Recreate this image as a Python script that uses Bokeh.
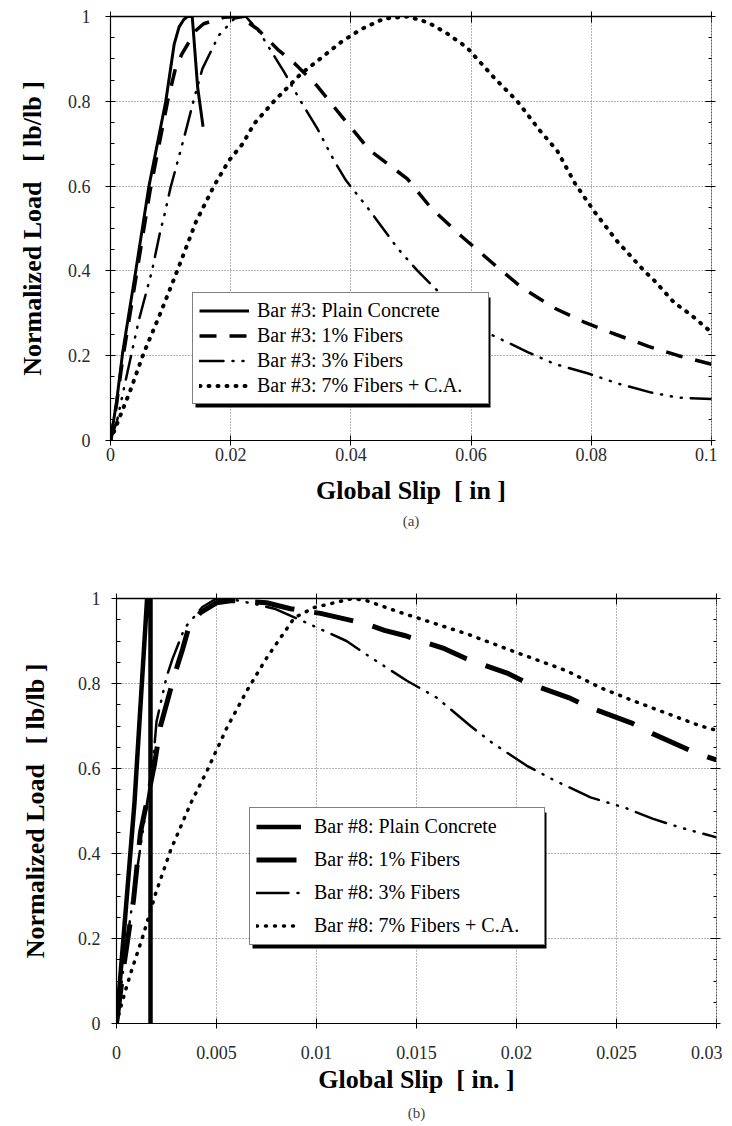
from bokeh.plotting import figure
from bokeh.layouts import column, row
from bokeh.models import (FixedTicker, LinearAxis, Legend, LegendItem, Title,
                          CustomJSTickFormatter, BoxAnnotation, Spacer)
from bokeh.embed import file_html
from bokeh.resources import INLINE

# ---------------- data: panel (a), bar #3 ----------------
a_x_ticks = [0, 0.02, 0.04, 0.06, 0.08, 0.1]
y_ticks = [0, 0.2, 0.4, 0.6, 0.8, 1]
y_minor = [0.05, 0.1, 0.15, 0.25, 0.3, 0.35, 0.45, 0.5, 0.55, 0.65, 0.7, 0.75, 0.85, 0.9, 0.95]

a_plain_x = [0, 0.001, 0.002, 0.0042, 0.0064, 0.0092, 0.0106, 0.0114, 0.0122, 0.0128, 0.0136, 0.0145, 0.0154]
a_plain_y = [0, 0.09, 0.205, 0.40, 0.60, 0.80, 0.935, 0.975, 0.993, 1.0, 1.0, 0.833, 0.74]

a_f1_x = [0, 0.001, 0.002, 0.0043, 0.0066, 0.0095, 0.0108, 0.0119, 0.0142, 0.0155, 0.0189, 0.0215, 0.0245,
          0.0280, 0.0306, 0.0344, 0.0385, 0.0431, 0.0494, 0.0533, 0.0583, 0.0636, 0.0685, 0.0739, 0.0787,
          0.0841, 0.0895, 0.0945, 0.1]
a_f1_y = [0, 0.085, 0.19, 0.39, 0.59, 0.80, 0.877, 0.912, 0.967, 0.983, 0.998, 1.0, 0.97,
          0.92, 0.89, 0.836, 0.764, 0.685, 0.617, 0.549, 0.483, 0.418, 0.36, 0.312, 0.28,
          0.25, 0.222, 0.20, 0.18]

a_f3_x = [0, 0.0011, 0.0025, 0.0047, 0.0069, 0.0083, 0.0089, 0.0100, 0.0122, 0.0139, 0.0153, 0.0180,
          0.0206, 0.0225, 0.0247, 0.0289, 0.0314, 0.0344, 0.0372, 0.0392, 0.0430, 0.0478, 0.0511,
          0.0547, 0.0630, 0.0695, 0.0738, 0.0795, 0.0845, 0.0900, 0.0945, 0.1]
a_f3_y = [0, 0.047, 0.14, 0.283, 0.40, 0.495, 0.527, 0.597, 0.712, 0.806, 0.877, 0.955,
          0.995, 1.0, 0.965, 0.869, 0.806, 0.736, 0.66, 0.613, 0.545, 0.453, 0.40,
          0.349, 0.252, 0.208, 0.181, 0.158, 0.134, 0.113, 0.101, 0.098]

a_f7_x = [0, 0.0013, 0.0033, 0.0055, 0.0083, 0.0111, 0.0142, 0.0172, 0.0197, 0.022, 0.0239, 0.0272,
          0.0317, 0.0345, 0.0383, 0.0417, 0.0455, 0.0495, 0.0528, 0.056, 0.0593, 0.0638, 0.0677,
          0.0715, 0.0743, 0.0773, 0.0805, 0.0843, 0.0888, 0.0905, 0.0938, 0.0967, 0.1]
a_f7_y = [0, 0.047, 0.118, 0.205, 0.30, 0.40, 0.515, 0.60, 0.66, 0.70, 0.747, 0.80,
          0.865, 0.896, 0.939, 0.97, 0.995, 1.0, 0.986, 0.96, 0.927, 0.856, 0.80,
          0.73, 0.684, 0.606, 0.54, 0.47, 0.40, 0.377, 0.325, 0.295, 0.255]

a_labels = ["Bar #3: Plain Concrete", "Bar #3: 1% Fibers", "Bar #3: 3% Fibers", "Bar #3: 7% Fibers + C.A."]

# ---------------- data: panel (b), bar #8 ----------------
b_x_ticks = [0, 0.005, 0.01, 0.015, 0.02, 0.025, 0.03]

b_plain_x = [0, 0.0009, 0.00153, 0.0017, 0.0017]
b_plain_y = [0, 0.52, 1.0, 1.0, 0]

b_f1_x = [0, 0.00035, 0.0006, 0.00085, 0.0012, 0.0016, 0.0019, 0.0022, 0.0029, 0.0033, 0.0036, 0.0042,
          0.0050, 0.0058, 0.0075, 0.0087, 0.0102, 0.0125, 0.0134, 0.0144, 0.0164, 0.0175, 0.0196,
          0.0205, 0.0226, 0.0237, 0.0258, 0.0268, 0.0289, 0.03]
b_f1_y = [0, 0.13, 0.21, 0.29, 0.45, 0.54, 0.61, 0.70, 0.82, 0.88, 0.93, 0.967,
          0.99, 0.995, 0.99, 0.976, 0.965, 0.94, 0.925, 0.913, 0.882, 0.858, 0.823,
          0.802, 0.767, 0.743, 0.706, 0.682, 0.638, 0.62]

b_f3_x = [0, 0.0004, 0.0009, 0.0014, 0.0018, 0.0020, 0.0025, 0.0028, 0.0034, 0.0043, 0.0050, 0.0058,
          0.0072, 0.0079, 0.0094, 0.0115, 0.0125, 0.0145, 0.0160, 0.0177, 0.0188, 0.0205, 0.0219,
          0.0237, 0.0254, 0.0268, 0.0282, 0.03]
b_f3_y = [0, 0.15, 0.32, 0.48, 0.60, 0.71, 0.815, 0.858, 0.93, 0.98, 1.0, 0.998,
          0.984, 0.976, 0.945, 0.90, 0.868, 0.807, 0.767, 0.70, 0.66, 0.607, 0.572,
          0.532, 0.508, 0.482, 0.461, 0.438]

b_f7_x = [0, 0.0003, 0.0007, 0.00135, 0.00195, 0.0027, 0.0037, 0.00453, 0.00553, 0.00653, 0.00753,
          0.0089, 0.0099, 0.0118, 0.0125, 0.0142, 0.015, 0.0175, 0.02, 0.0225, 0.0242, 0.0258,
          0.0275, 0.0292, 0.03]
b_f7_y = [0, 0.054, 0.117, 0.21, 0.305, 0.407, 0.517, 0.595, 0.697, 0.784, 0.862,
          0.955, 0.979, 1.0, 0.995, 0.967, 0.955, 0.917, 0.873, 0.83, 0.79, 0.76,
          0.73, 0.70, 0.69]

b_labels = ["Bar #8: Plain Concrete", "Bar #8: 1% Fibers", "Bar #8: 3% Fibers", "Bar #8: 7% Fibers + C.A."]

SERIF = "Liberation Serif"
NB = "\u00a0"
fmt = CustomJSTickFormatter(code="return tick.toString();")


def make_panel(xr, xt, xs, ys, labels, styles, fw, fh, frame_left, border_top, border_bottom,
               y_stand, y_lab_stand, x_stand, x_lab_stand, title_text, title_stand, xlabel,
               leg_loc, leg_rows, leg_glyph_w, leg_label_stand, leg_pad, leg_label_w):
    p = figure(frame_width=fw, frame_height=fh,
               x_range=xr, y_range=(0, 1), output_backend="svg", toolbar_location=None,
               min_border_left=frame_left, min_border_top=border_top, min_border_right=6,
               min_border_bottom=border_bottom, background_fill_color="white",
               border_fill_color="white", outline_line_color=None)

    p.xaxis.ticker = FixedTicker(ticks=xt, minor_ticks=[])
    p.yaxis.ticker = FixedTicker(ticks=y_ticks, minor_ticks=y_minor)
    p.xgrid.ticker = FixedTicker(ticks=xt)
    p.ygrid.ticker = FixedTicker(ticks=y_ticks)
    for ax in (p.xaxis[0], p.yaxis[0]):
        ax.formatter = fmt
        ax.axis_line_color = "black"
        ax.axis_line_width = 1.2
        ax.major_tick_in = 5
        ax.major_tick_out = 5
        ax.major_tick_line_width = 1
        ax.minor_tick_in = 4
        ax.minor_tick_out = 0
        ax.major_label_text_font = SERIF
        ax.major_label_text_font_size = "18px"
        ax.major_label_text_color = "#2a2a2a"
        ax.axis_label_text_font = SERIF
        ax.axis_label_text_font_size = "26px"
        ax.axis_label_text_font_style = "bold"
        ax.axis_label_text_color = "black"
    p.yaxis.major_label_standoff = y_stand
    p.yaxis.axis_label_standoff = y_lab_stand
    p.xaxis.major_label_standoff = x_stand
    p.xaxis.axis_label_standoff = x_lab_stand
    p.yaxis.axis_label = "Normalized Load" + NB + NB + NB + "[ lb/lb ]"
    p.xaxis.axis_label = xlabel

    top = LinearAxis(ticker=FixedTicker(ticks=xt, minor_ticks=[]), formatter=fmt,
                     major_label_text_font_size="0px", major_label_text_color=None,
                     major_label_standoff=0,
                     axis_line_color="black", axis_line_width=1.6,
                     major_tick_in=6, major_tick_out=5)
    p.add_layout(top, "above")
    right = LinearAxis(ticker=FixedTicker(ticks=y_ticks, minor_ticks=y_minor), formatter=fmt,
                       major_label_text_font_size="0px", major_label_text_color=None,
                       major_label_standoff=0,
                       axis_line_color="#555555", axis_line_width=1, axis_line_dash="2 1",
                       major_tick_in=6, major_tick_out=4, minor_tick_in=3, minor_tick_out=0)
    p.add_layout(right, "right")

    p.grid.grid_line_color = "#666666"
    p.grid.grid_line_dash = "1 2"
    p.grid.grid_line_width = 1

    renderers = []
    for x, y, st in zip(xs, ys, styles):
        r = p.line(x, y, line_color="black", line_join="round", **st)
        renderers.append(r)

    row_h, row_sp = leg_rows
    leg_w = 2 * leg_pad + leg_glyph_w + leg_label_stand + leg_label_w
    leg_h = 2 * leg_pad + 4 * row_h + 3 * row_sp
    shadow = BoxAnnotation(left=leg_loc[0] + 3, right=leg_loc[0] + 3 + leg_w,
                           bottom=leg_loc[1] - 3, top=leg_loc[1] - 3 + leg_h,
                           left_units="screen", right_units="screen",
                           bottom_units="screen", top_units="screen",
                           fill_color="black", fill_alpha=1, line_alpha=0)
    p.add_layout(shadow)
    leg = Legend(items=[LegendItem(label=l, renderers=[r]) for l, r in zip(labels, renderers)],
                 location=leg_loc, background_fill_color="white", background_fill_alpha=1,
                 border_line_color="black", border_line_width=1.2, label_text_color="black",
                 label_text_font=SERIF, label_text_font_size="20px",
                 glyph_width=leg_glyph_w, glyph_height=row_h, label_height=row_h,
                 label_width=leg_label_w, spacing=row_sp, padding=leg_pad, margin=0,
                 label_standoff=leg_label_stand)
    p.add_layout(leg)

    t = Title(text=title_text, align="center", text_font=SERIF, text_font_size="15px",
              text_font_style="normal", text_color="#444444", standoff=title_stand)
    p.add_layout(t, "below")
    return p


styles_a = [dict(line_width=3),
            dict(line_width=3.5, line_dash="17 13"),
            dict(line_width=2.5, line_dash="24 9 1 9 1 9 1 9", line_cap="round"),
            dict(line_width=4, line_dash="1 8", line_cap="round")]
styles_b = [dict(line_width=4.5),
            dict(line_width=5, line_dash="40 20"),
            dict(line_width=2.5, line_dash="32 9 1 9 1 9 1 9", line_cap="round"),
            dict(line_width=3.5, line_dash="1 8", line_cap="round")]

p1 = make_panel((0, 0.1), a_x_ticks,
                [a_plain_x, a_f1_x, a_f3_x, a_f7_x], [a_plain_y, a_f1_y, a_f3_y, a_f7_y],
                a_labels, styles_a, fw=601, fh=424, frame_left=110, border_top=16, border_bottom=106,
                y_stand=15, y_lab_stand=18, x_stand=2, x_lab_stand=12,
                title_text="(a)", title_stand=7, xlabel="Global Slip" + NB + NB + "[ in ]",
                leg_loc=(82, 36), leg_rows=(23, 2), leg_glyph_w=50, leg_label_stand=8,
                leg_pad=6, leg_label_w=225)

p2 = make_panel((0, 0.03), b_x_ticks,
                [b_plain_x, b_f1_x, b_f3_x, b_f7_x], [b_plain_y, b_f1_y, b_f3_y, b_f7_y],
                b_labels, styles_b, fw=600, fh=425, frame_left=110, border_top=52, border_bottom=100,
                y_stand=11, y_lab_stand=25, x_stand=17, x_lab_stand=3,
                title_text="(b)", title_stand=12, xlabel="Global Slip" + NB + NB + "[ in. ]",
                leg_loc=(133, 78), leg_rows=(25, 8), leg_glyph_w=45, leg_label_stand=13,
                leg_pad=6, leg_label_w=224)

layout = column(p1, row(Spacer(width=6, height=10), p2, spacing=0), spacing=0)
open("out.html", "w").write(file_html(layout, INLINE))
